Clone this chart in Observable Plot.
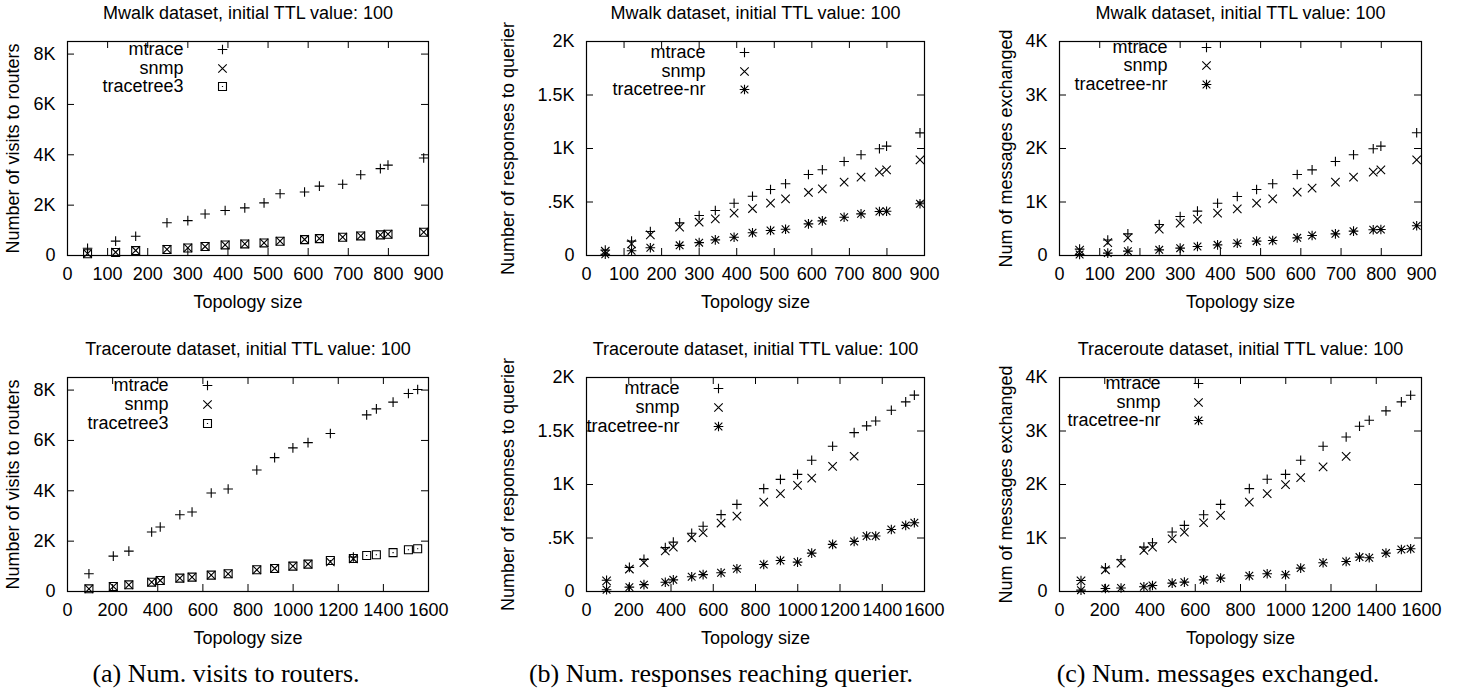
<!DOCTYPE html>
<html><head><meta charset="utf-8">
<script src="https://cdn.jsdelivr.net/npm/d3@7"></script>
<script src="https://cdn.jsdelivr.net/npm/@observablehq/plot@0.6"></script>
<style>
body{margin:0;background:#fff;}
#fig{position:relative;width:1469px;height:695px;background:#fff;overflow:hidden;}
#fig > div.panel{position:absolute;}
.cap{position:absolute;font-family:"Liberation Serif","Times New Roman",serif;font-size:26px;line-height:1;color:#000;transform:translate(-50%,-50%);white-space:nowrap;}
</style></head><body><div id="fig"></div>
<script>
// ---------- data ----------
const titleMwalk = "Mwalk dataset, initial TTL value: 100";
const titleTrace = "Traceroute dataset, initial TTL value: 100";
const xLabel = "Topology size";
const yLabelVisits = "Number of visits to routers";
const yLabelResp = "Number of responses to querier";
const yLabelMsgs = "Num of messages exchanged";
const captions = ["(a) Num. visits to routers.", "(b) Num. responses reaching querier.", "(c) Num. messages exchanged."];

const xTicksMwalk = [0, 100, 200, 300, 400, 500, 600, 700, 800, 900];
const xTicksTrace = [0, 200, 400, 600, 800, 1000, 1200, 1400, 1600];
const yTicksVisits = [0, 2000, 4000, 6000, 8000];
const yTickLabelsVisits = ["0", "2K", "4K", "6K", "8K"];
const yTicksResp = [0, 500, 1000, 1500, 2000];
const yTickLabelsResp = ["0", ".5K", "1K", "1.5K", "2K"];
const yTicksMsgs = [0, 1000, 2000, 3000, 4000];
const yTickLabelsMsgs = ["0", "1K", "2K", "3K", "4K"];

// Mwalk topology sizes
const mwalkX = [50, 120, 170, 248, 300, 343, 393, 442, 490, 530, 591, 628, 686, 731, 780, 799, 888];
// (a) visits, Mwalk
const mwalkVisitsMtrace = [290, 570, 765, 1300, 1385, 1650, 1790, 1890, 2090, 2450, 2520, 2755, 2830, 3210, 3450, 3590, 3870];
const mwalkVisitsSnmp = [75, 130, 200, 240, 305, 356, 424, 464, 503, 570, 636, 675, 728, 781, 821, 848, 927];
const mwalkVisitsTT3 = [70, 120, 195, 240, 300, 356, 420, 460, 500, 565, 630, 670, 725, 778, 820, 845, 925];
// (b) responses, Mwalk
const mwalkRespMtrace = [50, 134, 225, 305, 374, 420, 489, 554, 617, 670, 757, 801, 879, 941, 997, 1022, 1146];
const mwalkRespSnmp = [40, 109, 193, 265, 311, 343, 396, 439, 489, 530, 589, 623, 685, 732, 779, 801, 894];
const mwalkRespTTnr = [12, 45, 72, 95, 120, 146, 171, 212, 234, 246, 296, 324, 358, 389, 411, 414, 483];
// (c) messages, Mwalk
const mwalkMsgsMtrace = [120, 290, 405, 580, 729, 829, 978, 1103, 1234, 1340, 1514, 1601, 1757, 1882, 1994, 2044, 2293];
const mwalkMsgsSnmp = [100, 240, 330, 492, 604, 679, 791, 872, 978, 1059, 1184, 1259, 1371, 1464, 1558, 1601, 1788];
const mwalkMsgsTTnr = [20, 44, 81, 106, 137, 168, 199, 230, 268, 280, 330, 374, 405, 455, 480, 486, 555];

// Traceroute topology sizes (snmp only has the first 15)
const traceX = [95, 203, 272, 373, 411, 498, 552, 637, 712, 839, 918, 999, 1066, 1165, 1267, 1326, 1369, 1443, 1511, 1552];
// (a) visits, Traceroute
const traceVisitsMtrace = [703, 1406, 1605, 2361, 2560, 3050, 3156, 3912, 4072, 4828, 5318, 5703, 5915, 6273, 1370, 7016, 7255, 7520, 7865, 8024];
const traceVisitsSnmp = [106, 199, 265, 371, 438, 530, 570, 650, 703, 862, 915, 1008, 1088, 1180, 1300];
const traceVisitsTT3 = [106, 199, 265, 371, 438, 530, 570, 650, 703, 862, 915, 1008, 1088, 1230, 1310, 1432, 1459, 1545, 1658, 1698];
// (b) responses, Traceroute
const traceRespMtrace = [105, 225, 300, 410, 461, 545, 610, 718, 814, 961, 1048, 1095, 1226, 1357, 1485, 1548, 1594, 1694, 1772, 1835];
const traceRespSnmp = [100, 210, 270, 380, 414, 502, 549, 640, 705, 836, 914, 992, 1060, 1170, 1264];
const traceRespTTnr = [16, 41, 64, 87, 109, 138, 158, 175, 212, 253, 290, 275, 359, 440, 468, 518, 518, 580, 618, 643];
// (c) messages, Traceroute
const traceMsgsMtrace = [206, 443, 593, 830, 910, 1111, 1236, 1435, 1629, 1922, 2097, 2190, 2452, 2714, 2889, 3089, 3201, 3376, 3544, 3669];
const traceMsgsSnmp = [200, 406, 530, 768, 828, 986, 1111, 1285, 1423, 1672, 1828, 1997, 2128, 2328, 2527];
const traceMsgsTTnr = [25, 55, 65, 90, 112, 156, 175, 218, 250, 293, 331, 312, 437, 537, 562, 643, 630, 718, 786, 799];

// ---------- gnuplot-style point symbols ----------
const symPlus = {draw(ctx, size) {const r = Math.sqrt(size / Math.PI); ctx.moveTo(-r, 0); ctx.lineTo(r, 0); ctx.moveTo(0, -r); ctx.lineTo(0, r);}};
const symTimes = {draw(ctx, size) {const r = Math.sqrt(size / Math.PI) * 0.88; ctx.moveTo(-r, -r); ctx.lineTo(r, r); ctx.moveTo(-r, r); ctx.lineTo(r, -r);}};
const symStar = {draw(ctx, size) {const r = Math.sqrt(size / Math.PI); const q = r * 0.8;
  ctx.moveTo(-r, 0); ctx.lineTo(r, 0); ctx.moveTo(0, -r); ctx.lineTo(0, r);
  ctx.moveTo(-q, -q); ctx.lineTo(q, q); ctx.moveTo(-q, q); ctx.lineTo(q, -q);}};
const symBoxDot = {draw(ctx, size) {const r = Math.sqrt(size / Math.PI) * 0.83; ctx.rect(-r, -r, 2 * r, 2 * r); ctx.moveTo(-0.6, 0); ctx.lineTo(0.6, 0);}};

const rows = (xs, ys) => ys.map((y, i) => ({x: xs[i], y}));

const panels = [
  {title: titleMwalk, ylabel: yLabelVisits, xDomain: [0, 900], xTicks: xTicksMwalk, yDomain: [0, 8500], yTicks: yTicksVisits, yLabels: yTickLabelsVisits,
   series: [["mtrace", rows(mwalkX, mwalkVisitsMtrace), symPlus], ["snmp", rows(mwalkX, mwalkVisitsSnmp), symTimes], ["tracetree3", rows(mwalkX, mwalkVisitsTT3), symBoxDot]],
   left: 0, top: 0, width: 490, ml: 67, mr: 62, ylDx: -54, lgText: 116, lgSym: 155, lgRows: [8, 27, 45]},
  {title: titleMwalk, ylabel: yLabelResp, xDomain: [0, 900], xTicks: xTicksMwalk, yDomain: [0, 2000], yTicks: yTicksResp, yLabels: yTickLabelsResp,
   series: [["mtrace", rows(mwalkX, mwalkRespMtrace), symPlus], ["snmp", rows(mwalkX, mwalkRespSnmp), symTimes], ["tracetree-nr", rows(mwalkX, mwalkRespTTnr), symStar]],
   left: 490, top: 0, width: 490, ml: 96, mr: 56, ylDx: -78, lgText: 119, lgSym: 158, lgRows: [11, 30, 48]},
  {title: titleMwalk, ylabel: yLabelMsgs, xDomain: [0, 900], xTicks: xTicksMwalk, yDomain: [0, 4000], yTicks: yTicksMsgs, yLabels: yTickLabelsMsgs,
   series: [["mtrace", rows(mwalkX, mwalkMsgsMtrace), symPlus], ["snmp", rows(mwalkX, mwalkMsgsSnmp), symTimes], ["tracetree-nr", rows(mwalkX, mwalkMsgsTTnr), symStar]],
   left: 980, top: 0, width: 489, ml: 79, mr: 48, ylDx: -53, lgText: 108, lgSym: 147, lgRows: [6, 24, 43]},
  {title: titleTrace, ylabel: yLabelVisits, xDomain: [0, 1600], xTicks: xTicksTrace, yDomain: [0, 8500], yTicks: yTicksVisits, yLabels: yTickLabelsVisits,
   series: [["mtrace", rows(traceX, traceVisitsMtrace), symPlus], ["snmp", rows(traceX, traceVisitsSnmp), symTimes], ["tracetree3", rows(traceX, traceVisitsTT3), symBoxDot]],
   left: 0, top: 336, width: 490, ml: 67, mr: 62, ylDx: -54, lgText: 101, lgSym: 140, lgRows: [8, 27, 46]},
  {title: titleTrace, ylabel: yLabelResp, xDomain: [0, 1600], xTicks: xTicksTrace, yDomain: [0, 2000], yTicks: yTicksResp, yLabels: yTickLabelsResp,
   series: [["mtrace", rows(traceX, traceRespMtrace), symPlus], ["snmp", rows(traceX, traceRespSnmp), symTimes], ["tracetree-nr", rows(traceX, traceRespTTnr), symStar]],
   left: 490, top: 336, width: 490, ml: 96, mr: 56, ylDx: -78, lgText: 93, lgSym: 132, lgRows: [11, 30, 49]},
  {title: titleTrace, ylabel: yLabelMsgs, xDomain: [0, 1600], xTicks: xTicksTrace, yDomain: [0, 4000], yTicks: yTicksMsgs, yLabels: yTickLabelsMsgs,
   series: [["mtrace", rows(traceX, traceMsgsMtrace), symPlus], ["snmp", rows(traceX, traceMsgsSnmp), symTimes], ["tracetree-nr", rows(traceX, traceMsgsTTnr), symStar]],
   left: 980, top: 336, width: 489, ml: 79, mr: 48, ylDx: -53, lgText: 101, lgSym: 139, lgRows: [6, 25, 43]}
];

const fig = document.getElementById("fig");
const H = 320, MT = 41, MB = 65, FS = 18, R = 4.8, TICK = 7;

for (const p of panels) {
  const fw = p.width - p.ml - p.mr, fh = H - MT - MB;
  const marks = [
    Plot.frame({stroke: "black", strokeWidth: 1.2}),
    Plot.tickX(p.xTicks, {x: d => d, insetTop: fh - TICK, stroke: "black"}),
    Plot.tickX(p.xTicks, {x: d => d, insetBottom: fh - TICK, stroke: "black"}),
    Plot.tickY(p.yTicks, {y: d => d, insetRight: fw - TICK, stroke: "black"}),
    Plot.tickY(p.yTicks, {y: d => d, insetLeft: fw - TICK, stroke: "black"}),
    Plot.axisX({ticks: p.xTicks, tickSize: 0, tickPadding: 12, label: null, fontSize: FS, tickFormat: d => String(d)}),
    Plot.axisY({ticks: p.yTicks, tickSize: 0, tickPadding: 12, label: null, fontSize: FS, tickFormat: d => p.yLabels[p.yTicks.indexOf(d)]}),
    Plot.text([p.title], {text: d => d, frameAnchor: "top", dy: -28, textAnchor: "middle", lineAnchor: "middle", fontSize: FS}),
    Plot.text([xLabel], {text: d => d, frameAnchor: "bottom", dy: 47, textAnchor: "middle", lineAnchor: "middle", fontSize: FS}),
    Plot.text([p.ylabel], {text: d => d, frameAnchor: "left", dx: p.ylDx, rotate: -90, textAnchor: "middle", lineAnchor: "middle", fontSize: FS})
  ];
  p.series.forEach(([name, data, sym], i) => {
    marks.push(Plot.text([name], {text: d => d, frameAnchor: "top-left", dx: p.lgText, dy: p.lgRows[i], textAnchor: "end", lineAnchor: "middle", fontSize: FS}));
    marks.push(Plot.dot([name], {frameAnchor: "top-left", dx: p.lgSym, dy: p.lgRows[i], symbol: sym, r: R, stroke: "black", strokeWidth: 1.1, fill: "none"}));
  });
  p.series.forEach(([name, data, sym]) => {
    marks.push(Plot.dot(data, {x: "x", y: "y", symbol: sym, r: R, stroke: "black", strokeWidth: 1.1, fill: "none"}));
  });
  const svg = Plot.plot({
    width: p.width, height: H, marginLeft: p.ml, marginRight: p.mr, marginTop: MT, marginBottom: MB,
    x: {domain: p.xDomain}, y: {domain: p.yDomain},
    style: {fontFamily: "'Liberation Sans', Arial, Helvetica, sans-serif", fontSize: FS + "px", color: "black", background: "transparent", overflow: "visible"},
    marks
  });
  const wrap = document.createElement("div");
  wrap.className = "panel";
  wrap.style.left = p.left + "px";
  wrap.style.top = p.top + "px";
  wrap.appendChild(svg);
  fig.appendChild(wrap);
}

const capX = [226, 721, 1218];
captions.forEach((c, i) => {
  const d = document.createElement("div");
  d.className = "cap";
  d.textContent = c;
  d.style.left = capX[i] + "px";
  d.style.top = "674px";
  fig.appendChild(d);
});
</script>
</body></html>
